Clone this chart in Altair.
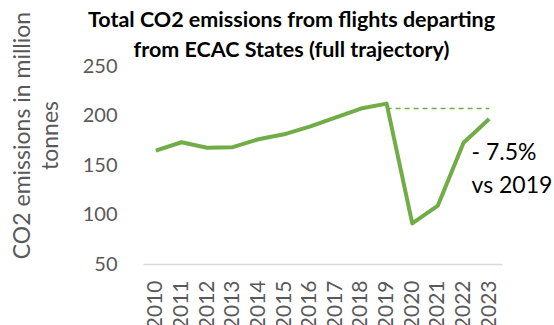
import altair as alt
import pandas as pd

years = ["2010", "2011", "2012", "2013", "2014", "2015", "2016",
         "2017", "2018", "2019", "2020", "2021", "2022", "2023"]
emissions = [164.5, 173, 167.5, 168, 176, 181, 188.7,
             197.8, 207, 212, 91, 109, 172.5, 196.5]
ref_years = ["2019", "2023"]
ref_value = [207, 207]
note_lines = ["- 7.5%", "vs 2019"]
note_year = ["2022"]
note_value = [162]

title_lines = ["Total CO2 emissions from flights departing",
               "from ECAC States (full trajectory)"]
y_title = ["CO2 emissions in million", "tonnes"]
y_ticks = [50, 100, 150, 200, 250]

df = pd.DataFrame({"year": years, "value": emissions})
ref = pd.DataFrame({"year": ref_years, "value": ref_value})
note = pd.DataFrame({"year": note_year, "value": note_value, "text": [note_lines]})

GREEN = "#70AD47"
GRAY = "#595959"
FONT = "Lato"

x = alt.X("year:N", sort=years, scale=alt.Scale(domain=years, paddingInner=0, paddingOuter=0),
          axis=alt.Axis(title=None, labelAngle=-90, labelAlign="right", labelBaseline="middle",
                        labelFontSize=21, labelColor=GRAY, labelFont=FONT, labelPadding=16,
                        ticks=False, domainColor="#D9D9D9", domainWidth=1.5))
y_scale = alt.Scale(domain=[50, 250], nice=False, zero=False)
y = alt.Y("value:Q", scale=y_scale,
          axis=alt.Axis(title=y_title, values=y_ticks, grid=False, domain=False, ticks=False,
                        labelFontSize=20, labelColor=GRAY, labelFont=FONT, labelPadding=26,
                        titleFontSize=23, titleColor=GRAY, titleFont=FONT, titleFontWeight="normal",
                        titleAngle=-90, titleAlign="center", titleBaseline="top",
                        titleX=-132, titleY=69, titleLineHeight=28))

line = alt.Chart(df).mark_line(color=GREEN, strokeWidth=4, strokeJoin="round").encode(x=x, y=y)

rule = alt.Chart(ref).mark_line(color=GREEN, strokeWidth=1.5, strokeDash=[5, 4]).encode(
    x=alt.X("year:N", sort=years), y=alt.Y("value:Q"))

text = alt.Chart(note).mark_text(align="left", baseline="middle", fontSize=23, font=FONT,
                                 color="black", dx=8, lineHeight=33).encode(
    x=alt.X("year:N", sort=years), y=alt.Y("value:Q"), text="text")

chart = alt.layer(rule, line, text).properties(
    width=359, height=198,
    padding={"left": 143, "top": 66, "right": 52, "bottom": 61},
    autosize=alt.AutoSizeParams(type="none"),
    title=alt.TitleParams(text=title_lines, fontSize=21.5, font=FONT, fontWeight="bold",
                          color="black", anchor="middle", dx=-31, dy=60, lineHeight=30, offset=10),
).configure_view(stroke=None)

chart.save("out.html", embed_options={"renderer": "svg", "actions": False})
